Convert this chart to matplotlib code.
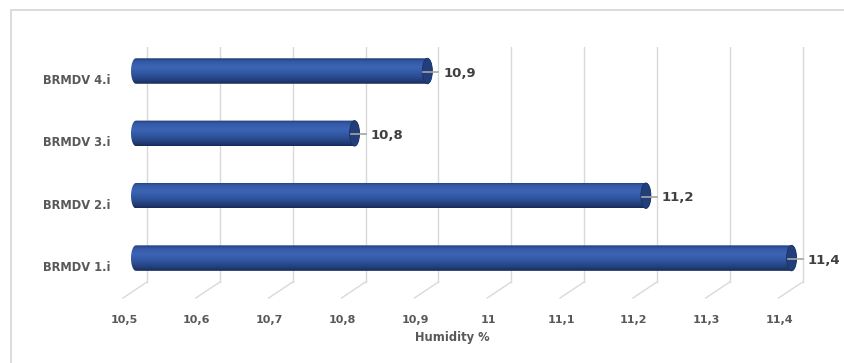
import matplotlib.pyplot as plt
import matplotlib.transforms as mtransforms
from matplotlib.patches import Ellipse, PathPatch, Rectangle
from matplotlib.path import Path
import numpy as np

categories = ['BRMDV 1.i', 'BRMDV 2.i', 'BRMDV 3.i', 'BRMDV 4.i']
humidity = [11.4, 11.2, 10.8, 10.9]
value_labels = ['11,4', '11,2', '10,8', '10,9']
ticks = [10.5, 10.6, 10.7, 10.8, 10.9, 11.0, 11.1, 11.2, 11.3, 11.4]
tick_labels = ['10,5', '10,6', '10,7', '10,8', '10,9', '11', '11,1', '11,2', '11,3', '11,4']

W, H = 844, 363
fig = plt.figure(figsize=(W / 100, H / 100), dpi=100)

# axes placed in pixel terms
left, right, top, bottom = 131, 823, 47, 298
ax = fig.add_axes([left / W, 1 - bottom / H, (right - left) / W, (bottom - top) / H])
xmin, xmax = 10.5, 11.45
ymin, ymax = -0.64, 3.385
ax.set_xlim(xmin, xmax)
ax.set_ylim(ymin, ymax)
for s in ax.spines.values():
    s.set_visible(False)

px_x = (xmax - xmin) / (right - left)      # data units per pixel
px_y = (ymax - ymin) / (bottom - top)

grid_col = '#d9d9d9'
# back wall gridlines + floor diagonals (3d look)
for t in ticks:
    bx = t + 16 * px_x
    y_floor = ymin + 16 * px_y
    ax.plot([bx, bx], [ymax, y_floor], color=grid_col, lw=1, zorder=0)
    ax.plot([bx, bx - 24 * px_x], [y_floor, ymin], color=grid_col, lw=1, zorder=0, clip_on=False)

# cylinder gradient, top -> bottom
stops = np.array([
    [0.00, 0x22, 0x3d, 0x78],
    [0.12, 0x33, 0x58, 0xa5],
    [0.35, 0x3c, 0x65, 0xb5],
    [0.60, 0x31, 0x56, 0xa0],
    [0.85, 0x23, 0x40, 0x7c],
    [1.00, 0x17, 0x2b, 0x58],
])
yy = np.linspace(0, 1, 64)
grad = np.stack([np.interp(yy, stops[:, 0], stops[:, i]) for i in (1, 2, 3)], axis=1) / 255
grad = grad[:, None, :]

bar_h = 25.5 * px_y
cap_w = 10 * px_x
a = cap_w / 2
th = np.linspace(np.pi / 2, 3 * np.pi / 2, 40)

for i, v in enumerate(humidity):
    x0 = xmin + a
    x1 = v + a
    yc = i
    b = bar_h / 2
    # left half ellipse: top -> bottom, bulging left
    lx = x0 + a * np.cos(th)
    ly = yc + b * np.sin(th)
    # right half ellipse: bottom -> top, bulging right
    rx = x1 - a * np.cos(th[::-1])
    ry = yc + b * np.sin(th[::-1])
    verts = np.concatenate([np.column_stack([lx, ly]), np.column_stack([rx, ry]), [[lx[0], ly[0]]]])
    codes = [Path.MOVETO] + [Path.LINETO] * (len(verts) - 2) + [Path.CLOSEPOLY]
    body = PathPatch(Path(verts, codes), facecolor='none', edgecolor='none', transform=ax.transData)
    ax.add_patch(body)
    im = ax.imshow(grad, extent=[xmin - 0.01, x1 + 0.02, yc - b, yc + b], aspect='auto',
                   interpolation='bilinear', zorder=2, origin='upper')
    im.set_clip_path(body)
    cap = Ellipse((x1, yc), cap_w, bar_h, facecolor='#223f7c', edgecolor='#1a3266', lw=0.6, zorder=3)
    ax.add_patch(cap)
    # leader line + value label
    ax.plot([x1 - 4 * px_x, x1 + 11 * px_x], [yc - 1 * px_y, yc - 1 * px_y], color='#a6a6a6', lw=1.2, zorder=4)
    ax.text(x1 + 16 * px_x, yc - 2 * px_y, value_labels[i], ha='left', va='center',
            fontsize=9.5, fontweight='bold', color='#404040', zorder=5)

ax.set_xlim(xmin, xmax)
ax.set_ylim(ymin, ymax)

ax.set_xticks(ticks)
ax.set_xticklabels(tick_labels)
ax.set_yticks(range(len(categories)))
ax.set_yticklabels(categories)
ax.tick_params(axis='x', length=0, pad=12, labelsize=8, labelcolor='#595959')
ax.tick_params(axis='y', length=0, pad=15, labelsize=8.3, labelcolor='#595959')
for lab in ax.get_xticklabels():
    lab.set_fontweight('bold')
    lab.set_transform(lab.get_transform() + mtransforms.ScaledTranslation(-7 / 100, 0, fig.dpi_scale_trans))
for lab in ax.get_yticklabels():
    lab.set_fontweight('bold')
    lab.set_transform(lab.get_transform() + mtransforms.ScaledTranslation(0, -8 / 100, fig.dpi_scale_trans))

fig.text(452 / W, 1 - 338 / H, 'Humidity %', ha='center', va='center',
         fontsize=8.3, fontweight='bold', color='#595959')

# outer chart border
fig.patches.append(Rectangle((10.5 / W, -0.1), 1.2, 1.1 - 10 / H, transform=fig.transFigure,
                             fill=False, edgecolor='#d9d9d9', lw=1.3))

fig.savefig('out.png', dpi=100)
